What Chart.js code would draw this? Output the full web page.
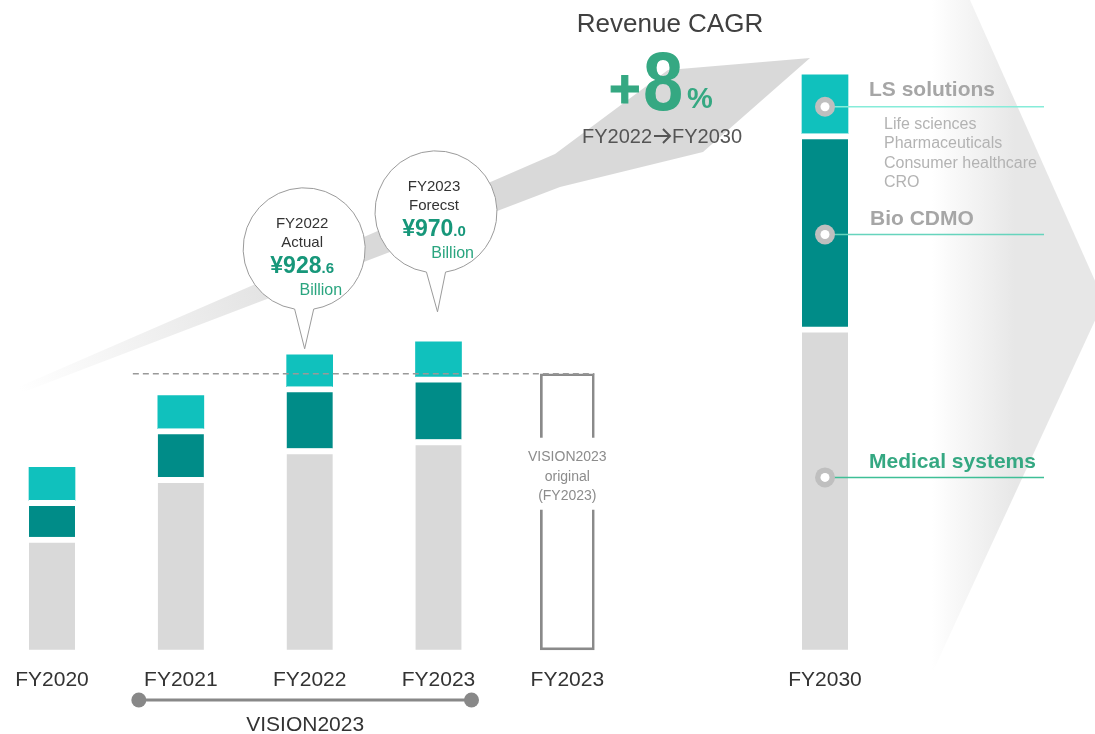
<!DOCTYPE html>
<html>
<head>
<meta charset="utf-8">
<script src="https://cdn.jsdelivr.net/npm/chart.js@4"></script>
<style>
  html, body { margin: 0; padding: 0; background: #fff; }
  #chart { display: block; }
</style>
</head>
<body>
<canvas id="chart" width="1095" height="734"></canvas>
<script>
// bar values (relative revenue scale, incl. the small white gap on top of lower segments)
const categories = ['FY2020', 'FY2021', 'FY2022', 'FY2023', 'FY2023', '', 'FY2030'];
const medicalSystems = [113, 173, 202, 211, null, null, 324];
const bioCdmo = [37, 49, 62, 63, null, null, 194];
const lsSolutions = [33, 33, 32, 35, null, null, 59];
const visionOriginal = [null, null, null, null, 277, null, null];

const callouts = [
    { index: 2, lines: ['FY2022', 'Actual'], big: '¥928', small: '.6', unit: 'Billion' },
    { index: 3, lines: ['FY2023', 'Forecst'], big: '¥970', small: '.0', unit: 'Billion' }
];
const lsItems = ['Life sciences', 'Pharmaceuticals', 'Consumer healthcare', 'CRO'];

const FONT = '"Liberation Sans", Arial, sans-serif';
const GRAY = '#d9d9d9';
const DARK = '#008c88';
const LIGHT = '#10c1bd';
const GREEN = '#35a882';

function txt(ctx, s, x, y, font, color, align) {
    ctx.font = font;
    ctx.fillStyle = color;
    ctx.textAlign = align || 'left';
    ctx.textBaseline = 'alphabetic';
    ctx.fillText(s, x, y);
}

function barOf(chart, ds, i) {
    return chart.getDatasetMeta(ds).data[i];
}

const backdrop = {
    id: 'backdrop',
    beforeDraw(chart) {
        var ctx = chart.ctx;
        ctx.save();
        ctx.fillStyle = '#fff';
        ctx.fillRect(0, 0, chart.width, chart.height);
        // right chevron with fade
        var g = ctx.createLinearGradient(932, 0, 1015, 0);
        g.addColorStop(0, 'rgba(231,231,231,0)');
        g.addColorStop(1, '#e7e7e7');
        ctx.fillStyle = g;
        ctx.beginPath();
        ctx.moveTo(850, 0);
        ctx.lineTo(970, 0);
        ctx.lineTo(1104, 301);
        ctx.lineTo(904, 734);
        ctx.lineTo(850, 734);
        ctx.closePath();
        ctx.fill();
        // big growth arrow
        var a = ctx.createLinearGradient(20, 392, 360, 250);
        a.addColorStop(0, 'rgba(217,217,217,0)');
        a.addColorStop(1, GRAY);
        ctx.fillStyle = a;
        ctx.beginPath();
        ctx.moveTo(0, 395);
        ctx.lineTo(555, 154);
        ctx.lineTo(668, 70);
        ctx.lineTo(810, 58);
        ctx.lineTo(703, 152);
        ctx.lineTo(560, 187);
        ctx.lineTo(0, 401);
        ctx.closePath();
        ctx.fill();
        ctx.restore();
    }
};

const overlay = {
    id: 'overlay',
    afterDatasetsDraw(chart) {
        var ctx = chart.ctx;
        var x = chart.scales.x, y = chart.scales.y;
        ctx.save();

        // dashed VISION2023 level line
        var vb = barOf(chart, 3, 4);
        var vy = y.getPixelForValue(visionOriginal[4]);
        ctx.strokeStyle = '#999';
        ctx.lineWidth = 1.5;
        ctx.setLineDash([6, 4]);
        ctx.beginPath();
        ctx.moveTo(x.getPixelForValue(1) - 48, vy);
        ctx.lineTo(vb.x + vb.width / 2, vy);
        ctx.stroke();
        ctx.setLineDash([]);

        // label inside the outline bar
        ctx.fillStyle = '#fff';
        ctx.fillRect(vb.x - 30, vy + 64, 60, 72);
        txt(ctx, 'VISION2023', vb.x, vy + 87, '14px ' + FONT, '#8c8c8c', 'center');
        txt(ctx, 'original', vb.x, vy + 107, '14px ' + FONT, '#8c8c8c', 'center');
        txt(ctx, '(FY2023)', vb.x, vy + 126, '14px ' + FONT, '#8c8c8c', 'center');

        // callout bubbles
        callouts.forEach(function (c, k) {
            var top = barOf(chart, 2, c.index);
            var tipY = top.y - (k === 0 ? 6 : 30);
            var cx = top.x - (k === 0 ? 5.5 : 2.5);
            var cy = tipY - 100;
            var r = 61;
            ctx.beginPath();
            ctx.arc(cx, cy, r, 99 * Math.PI / 180, (81 + 360) * Math.PI / 180, false);
            ctx.lineTo(top.x - 5 + (k === 0 ? 0 : 4), tipY);
            ctx.closePath();
            ctx.fillStyle = '#fff';
            ctx.fill();
            ctx.strokeStyle = '#9b9b9b';
            ctx.lineWidth = 1;
            ctx.stroke();
            txt(ctx, c.lines[0], cx - 2, cy - 21, '15px ' + FONT, '#333', 'center');
            txt(ctx, c.lines[1], cx - 2, cy - 2, '15px ' + FONT, '#333', 'center');
            ctx.font = 'bold 23px ' + FONT;
            var w1 = ctx.measureText(c.big).width;
            ctx.font = 'bold 15px ' + FONT;
            var w2 = ctx.measureText(c.small).width;
            var sx = cx - 2 - (w1 + w2) / 2;
            txt(ctx, c.big, sx, cy + 24, 'bold 23px ' + FONT, '#17977a', 'left');
            txt(ctx, c.small, sx + w1, cy + 24, 'bold 15px ' + FONT, '#17977a', 'left');
            txt(ctx, c.unit, cx + 38, cy + 46, '16px ' + FONT, '#2aa57f', 'right');
        });

        // CAGR headline
        txt(ctx, 'Revenue CAGR', 670, 32, '26px ' + FONT, '#404040', 'center');
        txt(ctx, '+', 609, 107, 'bold 54px ' + FONT, GREEN, 'left');
        ctx.strokeStyle = GREEN;
        ctx.lineWidth = 1.2;
        ctx.strokeText('+', 609, 107);
        ctx.save();
        ctx.translate(643, 110);
        ctx.scale(0.86, 1);
        txt(ctx, '8', 0, 0, 'bold 84px ' + FONT, GREEN, 'left');
        ctx.restore();
        txt(ctx, '%', 687, 108, 'bold 29px ' + FONT, GREEN, 'left');
        // FY2022 -> FY2030
        txt(ctx, 'FY2022', 652, 143, '20px ' + FONT, '#555', 'right');
        ctx.strokeStyle = '#555';
        ctx.lineWidth = 2;
        ctx.beginPath();
        ctx.moveTo(654, 136);
        ctx.lineTo(670, 136);
        ctx.moveTo(663, 129);
        ctx.lineTo(670, 136);
        ctx.lineTo(663, 143);
        ctx.stroke();
        txt(ctx, 'FY2030', 672, 143, '20px ' + FONT, '#555', 'left');

        // segment labels for FY2030
        var i30 = 6;
        var bx = x.getPixelForValue(i30);
        var lsBar = barOf(chart, 2, i30), bioBar = barOf(chart, 1, i30);
        var marks = [
            { y: lsBar.y + 32, line: '#86ecd9' },
            { y: bioBar.y + 101, line: '#66d4bd' },
            { y: y.getPixelForValue(173), line: '#3fbf96' }
        ];
        marks.forEach(function (m) {
            ctx.strokeStyle = m.line;
            ctx.lineWidth = 1.5;
            ctx.beginPath();
            ctx.moveTo(bx, m.y);
            ctx.lineTo(1044, m.y);
            ctx.stroke();
            ctx.fillStyle = '#bfbfbf';
            ctx.beginPath();
            ctx.arc(bx, m.y, 10, 0, Math.PI * 2);
            ctx.fill();
            ctx.fillStyle = '#fff';
            ctx.beginPath();
            ctx.arc(bx, m.y, 4.5, 0, Math.PI * 2);
            ctx.fill();
        });
        txt(ctx, 'LS solutions', 869, 96, 'bold 21px ' + FONT, '#a6a6a6');
        lsItems.forEach(function (s, j) {
            txt(ctx, s, 884, 129 + j * 19.3, '16px ' + FONT, '#b3b3b3');
        });
        txt(ctx, 'Bio CDMO', 870, 225, 'bold 21px ' + FONT, '#a6a6a6');
        txt(ctx, 'Medical systems', 869, 468, 'bold 21px ' + FONT, GREEN);

        // VISION2023 bracket
        var x1 = x.getPixelForValue(1) - 42, x2 = x.getPixelForValue(3) + 33;
        ctx.strokeStyle = '#888';
        ctx.fillStyle = '#888';
        ctx.lineWidth = 3;
        ctx.beginPath();
        ctx.moveTo(x1, 700);
        ctx.lineTo(x2, 700);
        ctx.stroke();
        [x1, x2].forEach(function (px) {
            ctx.beginPath();
            ctx.arc(px, 700, 7.5, 0, Math.PI * 2);
            ctx.fill();
        });
        txt(ctx, 'VISION2023', (x1 + x2) / 2, 731, '21px ' + FONT, '#333', 'center');

        ctx.restore();
    }
};

var gap = { top: 6, right: 0, bottom: 0, left: 0 };
var ctx = document.getElementById('chart').getContext('2d');
var myChart = new Chart(ctx, {
    type: 'bar',
    data: {
        labels: categories,
        datasets: [
            { label: 'Medical systems', data: medicalSystems, backgroundColor: GRAY, borderColor: '#fff', borderWidth: gap, borderSkipped: false, barThickness: 46 },
            { label: 'Bio CDMO', data: bioCdmo, backgroundColor: DARK, borderColor: '#fff', borderWidth: gap, borderSkipped: false, barThickness: 46 },
            { label: 'LS solutions', data: lsSolutions, backgroundColor: LIGHT, borderWidth: 0, barThickness: 46 },
            { label: 'VISION2023 original', data: visionOriginal, backgroundColor: 'rgba(0,0,0,0)', borderColor: '#8a8a8a', borderWidth: 2, borderSkipped: false, barThickness: 54 }
        ]
    },
    options: {
        responsive: false,
        animation: false,
        clip: false,
        layout: { padding: { left: 52, right: 270, top: 0, bottom: 23 } },
        plugins: {
            legend: { display: false },
            tooltip: { enabled: false }
        },
        scales: {
            x: {
                stacked: true,
                offset: false,
                grid: { display: false, drawTicks: false },
                border: { display: false },
                afterFit: function (scale) {
                    scale.paddingLeft = 0;
                    scale.paddingRight = 0;
                },
                ticks: {
                    autoSkip: false,
                    maxRotation: 0,
                    padding: 18,
                    color: '#333',
                    font: { family: FONT, size: 21 }
                }
            },
            y: {
                stacked: true,
                display: false,
                min: 0,
                max: 652
            }
        }
    },
    plugins: [backdrop, overlay]
});
</script>
</body>
</html>
